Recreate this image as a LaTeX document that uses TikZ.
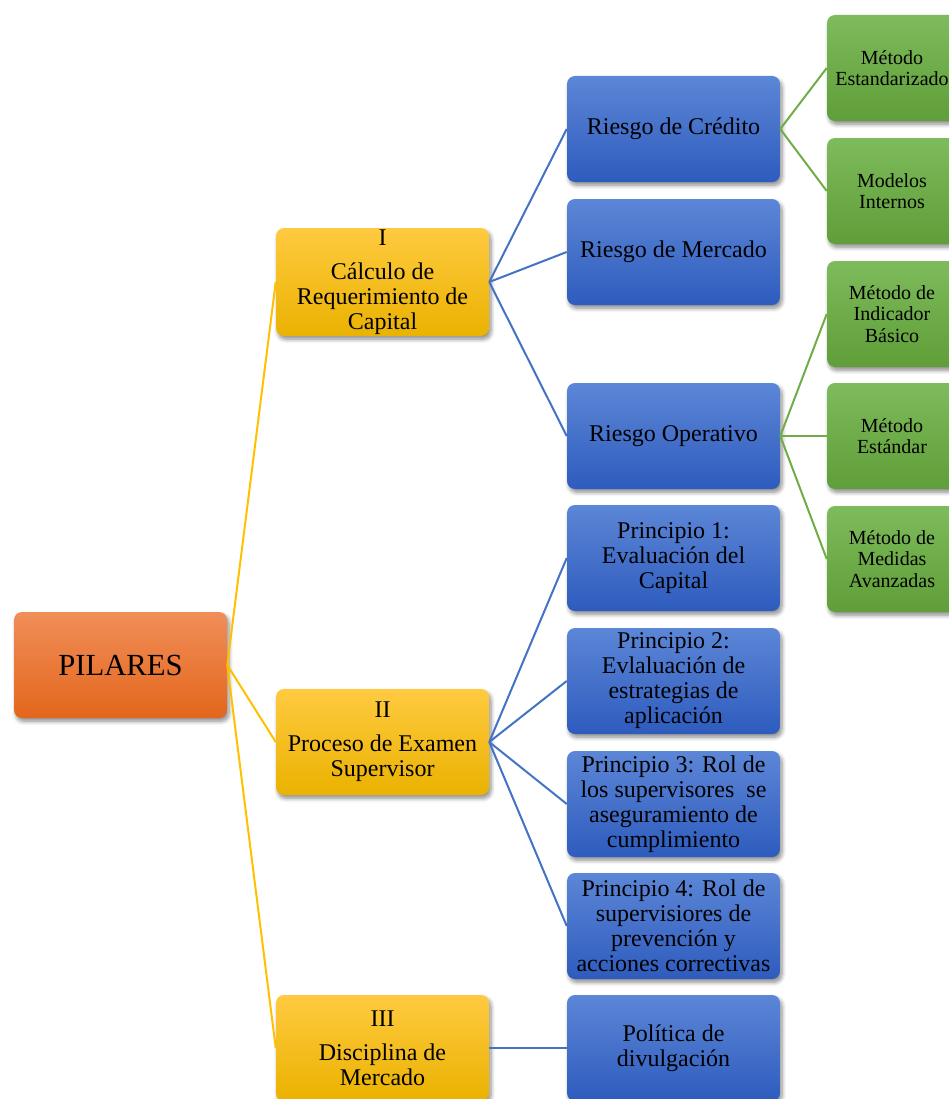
\documentclass[tikz,border=0pt]{standalone}
\usepackage{fontspec}
\setmainfont{Liberation Serif}
\usetikzlibrary{shadows.blur}
\definecolor{orT}{RGB}{241,142,88}
\definecolor{orB}{RGB}{227,102,28}
\definecolor{yeT}{RGB}{255,202,64}
\definecolor{yeB}{RGB}{234,178,0}
\definecolor{blT}{RGB}{92,134,214}
\definecolor{blB}{RGB}{46,92,190}
\definecolor{grT}{RGB}{126,187,92}
\definecolor{grB}{RGB}{95,158,56}
\definecolor{yeL}{RGB}{255,192,0}
\definecolor{blL}{RGB}{68,114,196}
\definecolor{grL}{RGB}{112,173,71}
\begin{document}
\begin{tikzpicture}[x=0.75pt,y=-0.75pt,
  box/.style={rectangle, rounded corners=6pt, align=center, inner sep=1pt,
    blur shadow={shadow xshift=1.5pt, shadow yshift=-2.5pt, shadow blur steps=6, shadow opacity=45, shadow blur radius=3pt}},
  orangebox/.style={box, top color=orT, bottom color=orB, minimum width=159.75pt, minimum height=79.5pt, font=\fontsize{23}{26}\selectfont},
  yellowbox/.style={box, top color=yeT, bottom color=yeB, minimum width=159.75pt, minimum height=79.5pt, font=\fontsize{18}{18.75}\selectfont},
  bluebox/.style={box, top color=blT, bottom color=blB, minimum width=159.75pt, minimum height=79.5pt, font=\fontsize{18}{18.75}\selectfont},
  greenbox/.style={box, top color=grT, bottom color=grB, minimum width=97.5pt, minimum height=79.5pt, font=\fontsize{15}{16}\selectfont},
  ylink/.style={draw=yeL, line width=1.5pt},
  blink/.style={draw=blL, line width=1.5pt},
  glink/.style={draw=grL, line width=1.5pt}
]
\useasboundingbox (0,0) rectangle (949,1099);

\node[orangebox] (pil) at (120.5,665) {PILARES};

\node[yellowbox] (y1) at (382.5,282) {I\\[7pt]Cálculo de\\Requerimiento de\\Capital};
\node[yellowbox] (y2) at (382.5,742) {II\\[7pt]Proceso de Examen\\Supervisor};
\node[yellowbox] (y3) at (382.5,1048) {III\\[7pt]Disciplina de\\Mercado};

\node[bluebox] (b1) at (673.5,129) {Riesgo de Crédito};
\node[bluebox] (b2) at (673.5,252) {Riesgo de Mercado};
\node[bluebox] (b3) at (673.5,436) {Riesgo Operativo};
\node[bluebox] (p1) at (673.5,558) {Principio 1:\\Evaluación del\\Capital};
\node[bluebox] (p2) at (673.5,681) {Principio 2:\\Evlaluación de\\estrategias de\\aplicación};
\node[bluebox] (p3) at (673.5,804) {Principio 3: Rol de\\los supervisores\ \ se\\aseguramiento de\\cumplimiento};
\node[bluebox] (p4) at (673.5,926) {Principio 4: Rol de\\supervisiores de\\prevención y\\acciones correctivas};
\node[bluebox] (pd) at (673.5,1048) {Política de\\divulgación};

\node[greenbox] (g1) at (892,68) {Método\\Estandarizado};
\node[greenbox] (g2) at (892,191) {Modelos\\Internos};
\node[greenbox] (g3) at (892,314) {Método de\\Indicador\\Básico};
\node[greenbox] (g4) at (892,436) {Método\\Estándar};
\node[greenbox] (g5) at (892,559) {Método de\\Medidas\\Avanzadas};

\draw[ylink] (pil.east) -- (y1.west);
\draw[ylink] (pil.east) -- (y2.west);
\draw[ylink] (pil.east) -- (y3.west);

\draw[blink] (y1.east) -- (b1.west);
\draw[blink] (y1.east) -- (b2.west);
\draw[blink] (y1.east) -- (b3.west);
\draw[blink] (y2.east) -- (p1.west);
\draw[blink] (y2.east) -- (p2.west);
\draw[blink] (y2.east) -- (p3.west);
\draw[blink] (y2.east) -- (p4.west);
\draw[blink] (y3.east) -- (pd.west);

\draw[glink] (b1.east) -- (g1.west);
\draw[glink] (b1.east) -- (g2.west);
\draw[glink] (b3.east) -- (g3.west);
\draw[glink] (b3.east) -- (g4.west);
\draw[glink] (b3.east) -- (g5.west);
\end{tikzpicture}
\end{document}
